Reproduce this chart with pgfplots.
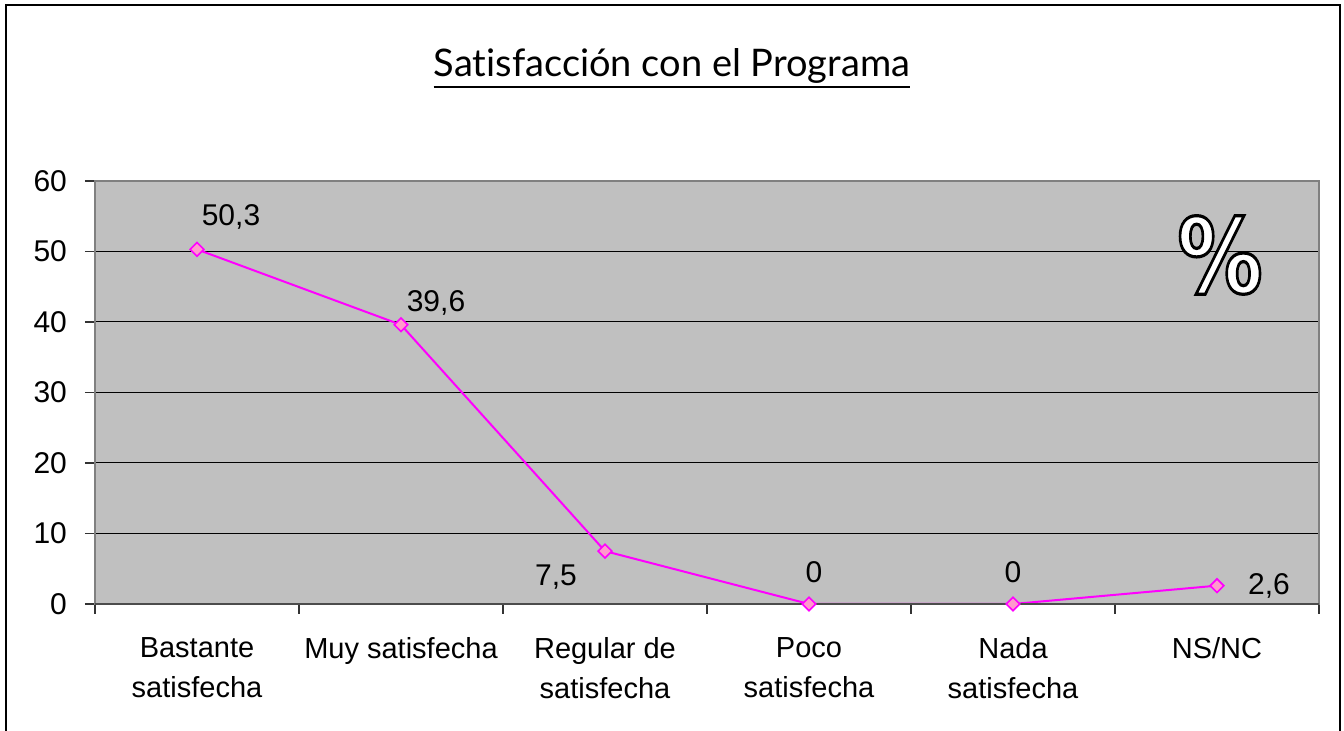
\documentclass[border=0pt]{standalone}
\usepackage{pgfplots}
\pgfplotsset{compat=1.18}
\usepackage{pgfplotstable}
\usepackage{fontspec}
\setmainfont{Liberation Sans}
\newfontfamily\titlefont[Ligatures={NoCommon}]{Lato}
\newfontfamily\pctfont{DejaVu Sans}
\definecolor{plotbg}{RGB}{192,192,192}
\definecolor{frame}{RGB}{128,128,128}
\definecolor{mag}{RGB}{255,0,255}
\definecolor{pinkfill}{RGB}{255,153,204}
\pgfplotstableread{
x y lab dx dy
0 50.3 {50,3} 17 16
1 39.6 {39,6} 17.5 11
2 7.5 {7,5} -24.5 -13
3 0 {0} 2.5 16
4 0 {0} 0 16
5 2.6 {2,6} 26 0
}\datatable
\begin{document}
\begin{tikzpicture}
\useasboundingbox (0,0) rectangle (672pt,365.5pt);
\draw[line width=1pt] (3pt,-10pt) rectangle (670pt,363pt);
\node[inner sep=0pt, anchor=base, font=\titlefont\fontsize{19}{19}\selectfont] (title) at (336pt,327pt) {Satisfacción con el Programa};
\draw[line width=1.4pt] ([yshift=-5pt]title.base west) -- ([yshift=-5pt]title.base east);
\begin{axis}[
  at={(47.5pt,63.5pt)}, anchor=south west,
  scale only axis, width=612pt, height=211.5pt,
  xmin=-0.5, xmax=5.5, ymin=0, ymax=60,
  ytick={0,10,...,60},
  xtick={0,...,5},
  xticklabels={{Bastante\\satisfecha},{Muy satisfecha},{Regular de\\satisfecha},{Poco\\satisfecha},{Nada\\satisfecha},{NS/NC}},
  xticklabel style={align=center, font=\fontsize{14.5}{20}\selectfont, anchor=north, yshift=-8pt},
  yticklabel style={font=\fontsize{15}{15}\selectfont, xshift=-5.5pt},
  /pgf/number format/assume math mode=true,
  minor xtick={-0.5,0.5,...,5.5},
  xtick pos=bottom, ytick pos=left,
  tick align=outside,
  major tick length=5pt, minor tick length=5pt,
  major x tick style={draw=none},
  minor x tick style={draw=black!80, line width=0.6pt},
  major y tick style={draw=black!80, line width=0.6pt},
  ymajorgrids,
  major grid style={black, line width=0.5pt},
  axis background/.style={fill=plotbg},
  axis line style={draw=frame, line width=0.8pt},
  clip=false,
]
\addplot[mag, line width=1pt, mark=square*, mark size=2.4pt,
  mark options={rotate=45, fill=pinkfill, draw=mag, line width=0.8pt},
  point meta=explicit symbolic,
  nodes near coords,
  visualization depends on={\thisrow{dx} \as \dx},
  visualization depends on={\thisrow{dy} \as \dy},
  nodes near coords style={anchor=center, xshift=\dx pt, yshift=\dy pt, font=\fontsize{15}{15}\selectfont, text=black},
] table[x=x, y=y, meta=lab] {\datatable};
\draw[black!70, line width=0.8pt] (axis cs:-0.5,0) -- (axis cs:5.5,0);
\end{axis}
\node[xscale=0.82, transform shape] at (610pt,238pt) {\color{white}\special{pdf:literal direct 2 Tr 1.6 w 0 G}\pctfont\bfseries\fontsize{52}{52}\selectfont\%\special{pdf:literal direct 0 Tr}};
\end{tikzpicture}
\end{document}
